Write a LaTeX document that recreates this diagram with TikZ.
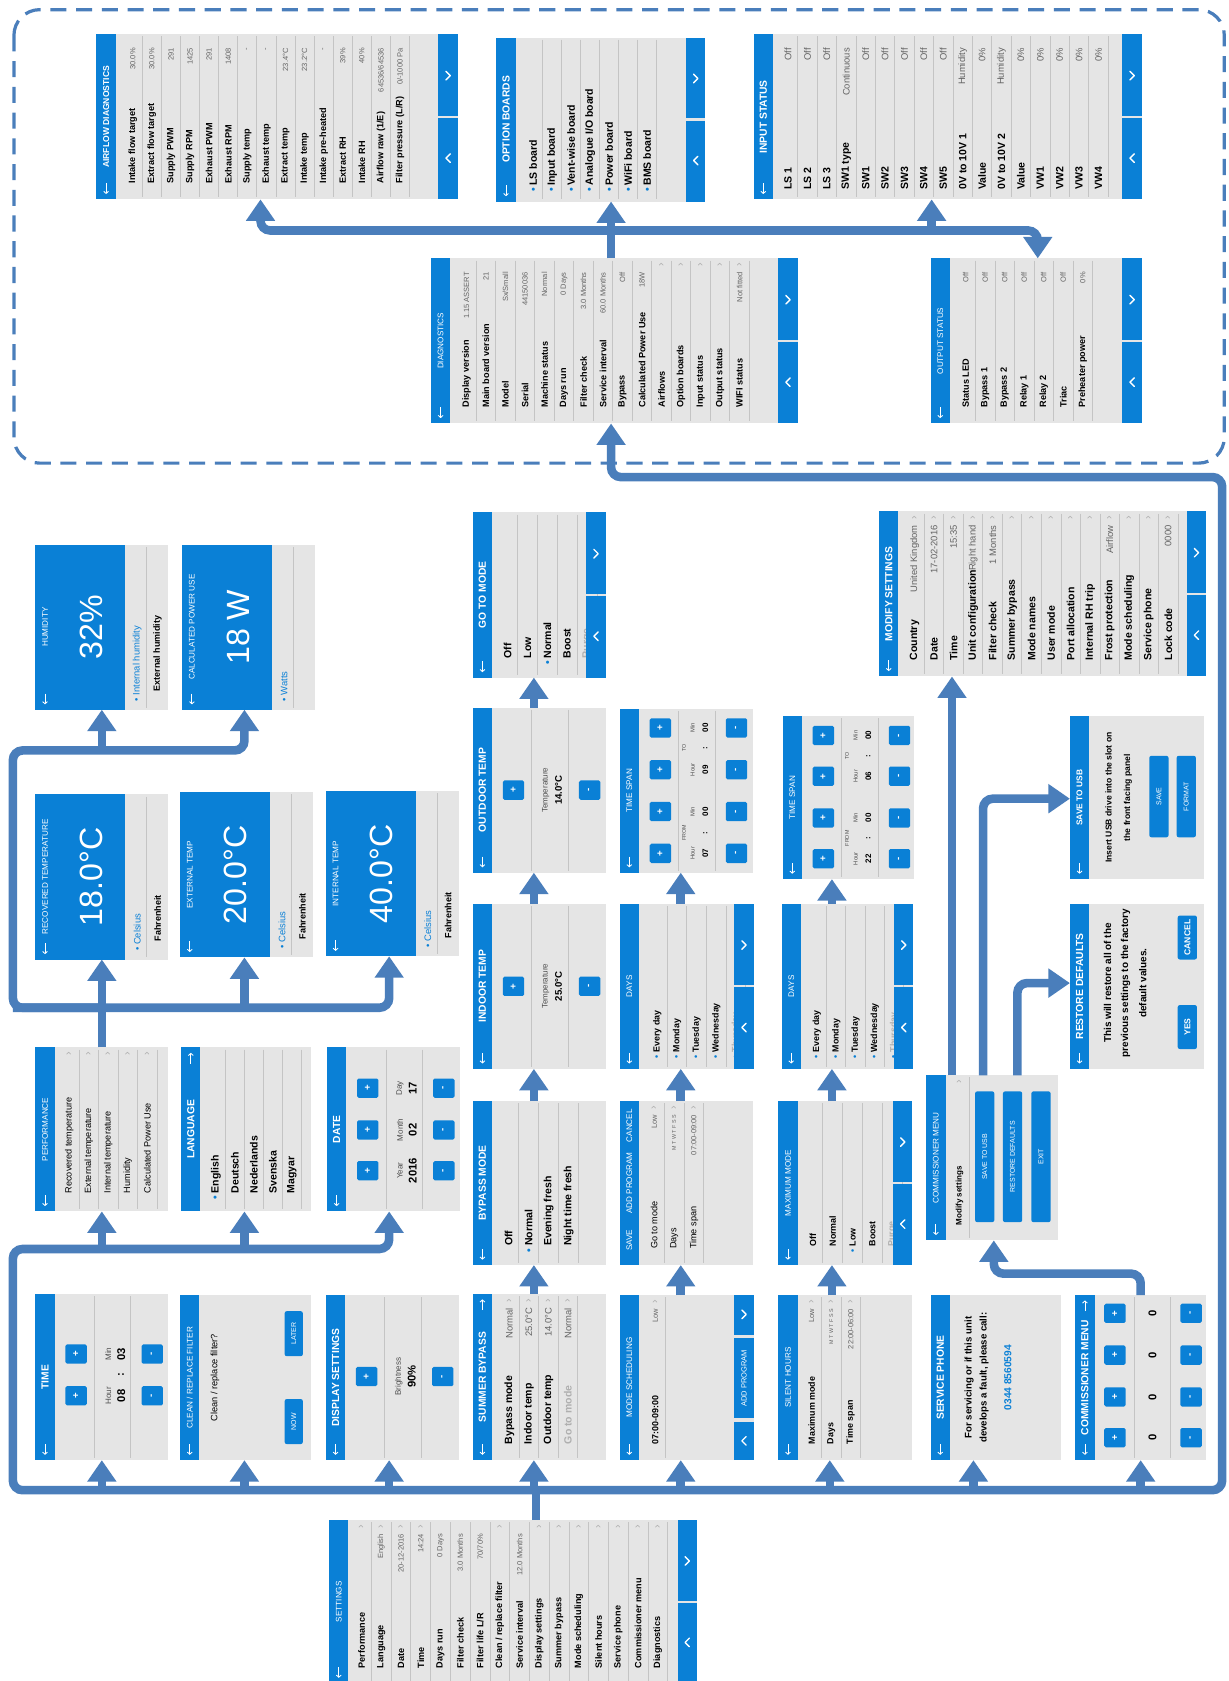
\documentclass[tikz,border=0pt]{standalone}
\usepackage{fontspec}
\setmainfont{Liberation Sans}
\usetikzlibrary{arrows.meta}
\definecolor{scrblue}{RGB}{10,128,214}
\definecolor{scrgrey}{RGB}{229,229,229}
\definecolor{sepgrey}{RGB}{196,196,196}
\definecolor{arrblue}{RGB}{74,126,187}
\definecolor{valgrey}{RGB}{100,100,100}
\definecolor{dimgrey}{RGB}{175,175,175}
\newcommand\fs[1]{\fontsize{#1}{#1}\selectfont}
\newcommand\bul{{\color{scrblue}\textbullet}\hspace{2.5pt}}
\newcommand\nb{\phantom{\textbullet}\hspace{2.5pt}}
\newcommand\greyed[1]{\textcolor{dimgrey}{#1}}
\newcommand\LabOff{15}
\newcommand\ValOff{13}
\tikzset{
 every node/.style={inner sep=0pt, outer sep=0pt},
 scrbg/.style={fill=scrgrey, draw=none},
 ttl/.style={rotate=90, text=white, font=\fs{7.6}},
 ttlA/.style={rotate=90, text=white, font=\bfseries\fs{8}},
 ttlb/.style={rotate=90, text=white, font=\bfseries\fs{9.6}},
 ttlc/.style={rotate=90, text=white, font=\bfseries\fs{7.8}},
 lA/.style={rotate=90, anchor=west, font=\bfseries\fs{8.5}},
 lB/.style={rotate=90, anchor=west, font=\bfseries\fs{9.8}},
 lC/.style={rotate=90, anchor=west, font=\fs{8.5}},
 lD/.style={rotate=90, anchor=west, font=\bfseries\fs{8.3}},
 vA/.style={rotate=90, anchor=east, text=valgrey, font=\fs{7}},
 vB/.style={rotate=90, anchor=east, text=valgrey, font=\fs{8.8}},
 chevn/.style={rotate=90, text=dimgrey, font=\fs{10}},
 rowsep/.style={draw=sepgrey, line width=0.8pt},
 backarr/.style={white, line width=0.8pt, -{Straight Barb[length=2pt,width=4.5pt]}},
 btnchev/.style={white, line width=1.3pt, line cap=round, line join=round},
 pmb/.style={rotate=90, fill=scrblue, rounded corners=1.5pt, minimum width=18pt, minimum height=20pt, text=white, font=\bfseries\fs{9}},
 pml/.style={rotate=90, text=black!70, font=\fs{7.5}},
 pmv/.style={rotate=90, font=\bfseries\fs{10.5}},
 tbtn/.style={rotate=90, fill=scrblue, rounded corners=2pt, text=white, font=\fs{6.5}},
 txtb/.style={rotate=90, font=\bfseries\fs{8}},
 bigval/.style={rotate=90, text=white, font=\fs{30}},
 conn/.style={draw=arrblue, line width=8pt, rounded corners=9pt},
 bigtip/.style={-{Triangle[width=26pt,length=20pt]}},
}
\newcommand\Scr[7]{%
  \node[scrbg, minimum width=#4pt, minimum height=#5pt, anchor=north west] (#1) at (#2,#3) {};
  \fill[scrblue] (#2,#3) rectangle ++(18,#5);
  \node[#6] (#1-ttl) at ({#2+9},{#3+#5/2}) {#7};
}
\newcommand\Back[2]{\draw[backarr] ({#1+9},{#2-15}) -- ({#1+9},{#2-5});}
\newcommand\Up[2]{\draw[backarr] ({#1+9},{#2+15}) -- ({#1+9},{#2+5});}
\newcommand\Btn[3]{%
  \fill[scrblue] (#1,#2) rectangle ({#1+18},{#2+#3/2-1});
  \fill[scrblue] (#1,{#2+#3/2+1}) rectangle ({#1+18},{#2+#3});
  \draw[btnchev] ({#1+7},{#2+#3/4-4}) -- ({#1+11},{#2+#3/4}) -- ({#1+7},{#2+#3/4+4});
  \draw[btnchev] ({#1+11},{#2+3*#3/4-4}) -- ({#1+7},{#2+3*#3/4}) -- ({#1+11},{#2+3*#3/4+4});
}
\newcommand\Rows[8]{%
  \foreach[count=\i] \lb/\vl/\cf in {#8}{%
    \node[#6] (#1-l\i) at ({#2+(\i-0.5)*#5},{#3+#4-\LabOff}) {\lb};
    \node[#7] (#1-v\i) at ({#2+(\i-0.5)*#5},{#3+\ValOff}) {\vl};
    \ifnum\cf=1 \node[chevn] (#1-c\i) at ({#2+(\i-0.5)*#5},{#3+6}) {›};\fi
    \draw[rowsep] ({#2+\i*#5},{#3+2}) -- ({#2+\i*#5},{#3+#4-2});
  }%
}
\newcommand\PM[5]{%
  \node[pmb] (#1-p) at ({#2+38},#3) {+};
  \node[pmb] (#1-m) at ({#2+109},#3) {-};
  \node[pml] (#1-l) at ({#2+68},#3) {#4};
  \node[pmv] (#1-v) at ({#2+80},#3) {#5};
}
\newcommand\PMsep[3]{%
  \draw[rowsep] ({#1+55},{#2+2}) -- ({#1+55},{#2+#3-2});
  \draw[rowsep] ({#1+89},{#2+2}) -- ({#1+89},{#2+#3-2});
}
\newcommand\VS[7]{%
  \node[scrbg, minimum width=124pt, minimum height=154pt, anchor=north west] (#1) at (#2,#3) {};
  \fill[scrblue] (#2,#3) rectangle ++(84,154);
  \node[ttl] (#1-ttl) at ({#2+9},{#3+77}) {#4};
  \Back{#2}{#3+154}
  \node[bigval] (#1-big) at ({#2+52},{#3+77}) {#5};
  \node[lC, text=scrblue, font=\fs{8.8}] (#1-i1) at ({#2+95},{#3+146}) {\bul #6};
  \draw[rowsep] ({#2+104},{#3+2}) -- ({#2+104},{#3+152});
  \node[lA, font=\bfseries\fs{8.4}] (#1-i2) at ({#2+114},{#3+137}) {#7};
}
\begin{document}
\begin{tikzpicture}[x=1pt,y=-1pt]
\useasboundingbox (0,0) rectangle (1146,1568);
\fill[white] (0,0) rectangle (1146,1568);
% dashed frame
\draw[arrblue, line width=3pt, dash pattern=on 15pt off 9pt, rounded corners=24pt] (13,9) rectangle (1142,432);

% ===== top area =====
\Scr{ad}{90}{32}{337}{154}{ttlA}{AIRFLOW DIAGNOSTICS}\Back{90}{186}
\Rows{ad}{115}{32}{154}{17.8}{lA}{vA}{{Intake flow target}/{30.0\%}/0,{Extract flow target}/{30.0\%}/0,{Supply PWM}/{291}/0,{Supply RPM}/{1425}/0,{Exhaust PWM}/{291}/0,{Exhaust RPM}/{1408}/0,{Supply temp}/{-}/0,{Exhaust temp}/{-}/0,{Extract temp}/{23.4°C}/0,{Intake temp}/{23.2°C}/0,{Intake pre-heated}/{-}/0,{Extract RH}/{39\%}/0,{Intake RH}/{40\%}/0,{Airflow raw (1/E)}/{64536/64536}/0,{Filter pressure (L/R)}/{0/-1000 Pa}/0}
\Btn{409}{32}{154}

\renewcommand\LabOff{9}
\Scr{ob}{463}{35}{195}{153}{ttlb}{OPTION BOARDS}\Back{463}{188}
\Rows{ob}{488.5}{35}{153}{17.7}{lB}{vA}{{\bul LS board}/{}/0,{\bul Input board}/{}/0,{\bul Vent-wise board}/{}/0,{\bul Analogue I/O board}/{}/0,{\bul Power board}/{}/0,{\bul WiFi board}/{}/0,{\bul BMS board}/{}/0}
\Btn{640}{35}{153}

\Scr{is}{703}{32}{362}{154}{ttlb}{INPUT STATUS}\Back{703}{186}
\Rows{is}{726}{32}{154}{18.1}{lB}{vB}{{LS 1}/{Off}/0,{LS 2}/{Off}/0,{LS 3}/{Off}/0,{SW1 type}/{Continuous}/0,{SW1}/{Off}/0,{SW2}/{Off}/0,{SW3}/{Off}/0,{SW4}/{Off}/0,{SW5}/{Off}/0,{0V to 10V 1}/{Humidity}/0,{Value}/{0\%}/0,{0V to 10V 2}/{Humidity}/0,{Value}/{0\%}/0,{VW1}/{0\%}/0,{VW2}/{0\%}/0,{VW3}/{0\%}/0,{VW4}/{0\%}/0}
\Btn{1047}{32}{154}
\renewcommand\LabOff{15}

\Scr{dg}{402}{241}{342}{154}{ttl}{DIAGNOSTICS}\Back{402}{395}
\Rows{dg}{426}{241}{154}{18.2}{lA}{vA}{{Display version}/{1.15 ASSERT}/0,{Main board version}/{21}/0,{Model}/{Sx/Small}/0,{Serial}/{44150036}/0,{Machine status}/{Normal}/0,{Days run}/{0 Days}/0,{Filter check}/{3.0 Months}/0,{Service interval}/{60.0 Months}/0,{Bypass}/{Off}/0,{Calculated Power Use}/{18W}/0,{Airflows}/{}/1,{Option boards}/{}/1,{Input status}/{}/1,{Output status}/{}/1,{WIFI status}/{Not fitted}/1}
\Btn{726}{241}{154}

\Scr{os}{868}{241}{197}{154}{ttl}{OUTPUT STATUS}\Back{868}{395}
\Rows{os}{891.7}{241}{154}{18.2}{lA}{vA}{{Status LED}/{Off}/0,{Bypass 1}/{Off}/0,{Bypass 2}/{Off}/0,{Relay 1}/{Off}/0,{Relay 2}/{Off}/0,{Triac}/{Off}/0,{Preheater power}/{0\%}/0}
\Btn{1047}{241}{154}

% ===== value screens =====
\VS{hm}{33}{508}{HUMIDITY}{32\%}{Internal humidity}{External humidity}
\VS{cp}{170}{508}{CALCULATED POWER USE}{18 W}{Watts}{}
\VS{rt}{33}{741}{RECOVERED TEMPERATURE}{18.0°C}{Celsius}{Fahrenheit}
\VS{et}{168}{739}{EXTERNAL TEMP}{20.0°C}{Celsius}{Fahrenheit}
\VS{it}{304}{738}{INTERNAL TEMP}{40.0°C}{Celsius}{Fahrenheit}

% ===== performance / language / date =====
\renewcommand\LabOff{17}
\Scr{pf}{33}{977}{124}{153}{ttl}{PERFORMANCE}\Back{33}{1130}
\Rows{pf}{55.5}{977}{153}{18.2}{lC}{vA}{{Recovered temperature}/{}/1,{External temperature}/{}/1,{Internal temperature}/{}/1,{Humidity}/{}/1,{Calculated Power Use}/{}/1}

\renewcommand\LabOff{11}
\Scr{lg}{169}{977}{121}{153}{ttlb}{LANGUAGE}\Up{169}{977}
\Rows{lg}{192.5}{977}{153}{17.7}{lB}{vA}{{\bul English}/{}/0,{\nb Deutsch}/{}/0,{\nb Nederlands}/{}/0,{\nb Svenska}/{}/0,{\nb Magyar}/{}/0}

\Scr{dt}{305}{977}{124}{153}{ttlb}{DATE}\Back{305}{1130}
\PMsep{305}{977}{153}
\PM{dt-y}{305}{1092}{Year}{2016}
\PM{dt-m}{305}{1054}{Month}{02}
\PM{dt-d}{305}{1015}{Day}{17}

% ===== time / clean / display =====
\Scr{tm}{33}{1207}{124}{155}{ttlb}{TIME}\Back{33}{1362}
\PMsep{33}{1207}{155}
\PM{tm-h}{33}{1302}{Hour}{08}
\PM{tm-m}{33}{1263}{Min}{03}
\node[pmv] (tm-c) at (113,1282) {:};

\Scr{cf}{168}{1208}{122}{154}{ttl}{CLEAN / REPLACE FILTER}\Back{168}{1362}
\node[lC, anchor=center, font=\fs{8.6}] (cf-q) at (200.5,1285) {Clean / replace filter?};
\node[tbtn, minimum width=42pt, minimum height=17pt] (cf-later) at (274,1244) {LATER};
\node[tbtn, minimum width=42pt, minimum height=17pt] (cf-now) at (274,1326) {NOW};

\Scr{ds}{304}{1208}{124}{154}{ttlb}{DISPLAY SETTINGS}\Back{304}{1362}
\PMsep{304}{1208}{154}
\PM{ds-b}{304}{1284}{Brightness}{90\%}

% ===== middle column 1 =====
\renewcommand\LabOff{12}
\Scr{gm}{441}{478}{124}{154}{ttlb}{GO TO MODE}\Back{441}{632}
\Rows{gm}{464.3}{478}{154}{18.5}{lB}{vA}{{\nb Off}/{}/0,{\nb Low}/{}/0,{\bul Normal}/{}/0,{\nb Boost}/{}/0,{\nb\greyed{Purge}}/{}/0}
\Btn{547}{478}{154}

\Scr{ot}{441}{660}{124}{154}{ttlb}{OUTDOOR TEMP}\Back{441}{814}
\PMsep{441}{660}{154}
\PM{ot-t}{441}{737}{Temperature}{\fs{9}14.0°C}

\Scr{itp}{441}{843}{124}{154}{ttlb}{INDOOR TEMP}\Back{441}{997}
\PMsep{441}{843}{154}
\PM{itp-t}{441}{920}{Temperature}{\fs{9}25.0°C}

\Scr{bm}{441}{1027}{124}{153}{ttlb}{BYPASS MODE}\Back{441}{1180}
\Rows{bm}{465}{1027}{153}{18.7}{lB}{vA}{{\nb Off}/{}/0,{\bul Normal}/{}/0,{\nb Evening fresh}/{}/0,{\nb Night time fresh}/{}/0}

\renewcommand\LabOff{15}
\Scr{sb}{441}{1207}{124}{155}{ttlb}{SUMMER BYPASS}\Back{441}{1362}\Up{441}{1207}
\Rows{sb}{466}{1207}{155}{18.2}{lB}{vB}{{Bypass mode}/{Normal}/1,{Indoor temp}/{25.0°C}/1,{Outdoor temp}/{14.0°C}/1,{\greyed{Go to mode}}/{Normal}/1}

% ===== middle column 2 =====
\Scr{ts1}{578}{661}{124}{153}{ttl}{TIME SPAN}\Back{578}{814}
\PMsep{578}{661}{153}
\PM{ts1-a}{578}{796}{\fs{5.5}Hour}{\fs{7.5}07}
\PM{ts1-b}{578}{757}{\fs{5.5}Min}{\fs{7.5}00}
\PM{ts1-c}{578}{718}{\fs{5.5}Hour}{\fs{7.5}09}
\PM{ts1-d}{578}{679}{\fs{5.5}Min}{\fs{7.5}00}
\node[pmv, font=\bfseries\fs{7.5}] (ts1-k1) at (658,777) {:};
\node[pmv, font=\bfseries\fs{7.5}] (ts1-k2) at (658,698) {:};
\node[pml, font=\fs{5}] (ts1-from) at (638,777) {FROM};
\node[pml, font=\fs{5}] (ts1-to) at (638,698) {TO};

\renewcommand\LabOff{10}
\Scr{dy1}{578}{843}{125}{154}{ttl}{DAYS}\Back{578}{997}
\Rows{dy1}{604}{843}{154}{18.3}{lD}{vA}{{\bul Every day}/{}/0,{\bul Monday}/{}/0,{\bul Tuesday}/{}/0,{\bul Wednesday}/{}/0,{\greyed{\bul Thursday}}/{}/0}
\Btn{685}{843}{154}

\renewcommand\LabOff{15}
\Scr{ap}{578}{1027}{124}{153}{ttl}{ADD PROGRAM}
\node[ttl] (ap-save) at (587,1157) {SAVE};
\node[ttl] (ap-cancel) at (587,1050) {CANCEL};
\Rows{ap}{601}{1027}{153}{18.5}{lC}{vA}{{Go to mode}/{Low}/1,{Days}/{\fs{5}M T W T F S S}/1,{Time span}/{07:00-09:00}/1}

\Scr{msc}{578}{1208}{125}{154}{ttl}{MODE SCHEDULING}\Back{578}{1362}
\Rows{msc}{602}{1208}{154}{18.5}{lD}{vA}{{07:00-09:00}/{Low}/1}
\fill[scrblue] (685,1208) rectangle (703,1245);
\fill[scrblue] (685,1248) rectangle (703,1323);
\fill[scrblue] (685,1326) rectangle (703,1362);
\draw[btnchev] (692,1222) -- (696,1226) -- (692,1230);
\draw[btnchev] (696,1340) -- (692,1344) -- (696,1348);
\node[ttl, font=\fs{7}] (msc-add) at (694,1285.5) {ADD PROGRAM};

% ===== middle column 3 =====
\Scr{ts2}{730}{668}{123}{152}{ttl}{TIME SPAN}\Back{730}{820}
\PMsep{730}{668}{152}
\PM{ts2-a}{730}{801}{\fs{5.5}Hour}{\fs{7.5}22}
\PM{ts2-b}{730}{763}{\fs{5.5}Min}{\fs{7.5}00}
\PM{ts2-c}{730}{724}{\fs{5.5}Hour}{\fs{7.5}06}
\PM{ts2-d}{730}{686}{\fs{5.5}Min}{\fs{7.5}00}
\node[pmv, font=\bfseries\fs{7.5}] (ts2-k1) at (810,782) {:};
\node[pmv, font=\bfseries\fs{7.5}] (ts2-k2) at (810,705) {:};
\node[pml, font=\fs{5}] (ts2-from) at (790,782) {FROM};
\node[pml, font=\fs{5}] (ts2-to) at (790,705) {TO};

\renewcommand\LabOff{10}
\Scr{dy2}{729}{843}{123}{154}{ttl}{DAYS}\Back{729}{997}
\Rows{dy2}{753}{843}{154}{18}{lD}{vA}{{\bul Every day}/{}/0,{\bul Monday}/{}/0,{\bul Tuesday}/{}/0,{\bul Wednesday}/{}/0,{\greyed{\bul Thursday}}/{}/0}
\Btn{834}{843}{154}

\renewcommand\LabOff{12}
\Scr{mx}{726}{1027}{125}{153}{ttl}{MAXIMUM MODE}\Back{726}{1180}
\Rows{mx}{749}{1027}{153}{18.5}{lD}{vA}{{\nb Off}/{}/0,{\nb Normal}/{}/0,{\bul Low}/{}/0,{\nb Boost}/{}/0,{\nb\greyed{Purge}}/{}/0}
\Btn{833}{1027}{153}

\renewcommand\LabOff{15}
\Scr{sh}{726}{1208}{125}{154}{ttl}{SILENT HOURS}\Back{726}{1362}
\Rows{sh}{748}{1208}{154}{18.2}{lD}{vA}{{Maximum mode}/{Low}/1,{Days}/{\fs{5}M T W T F S S}/1,{Time span}/{22:00-06:00}/1}

% ===== right column =====
\Scr{ms}{820}{477}{305}{154}{ttlb}{MODIFY SETTINGS}\Back{820}{631}
\Rows{ms}{844}{477}{154}{18.2}{lB}{vB}{{Country}/{United Kingdom}/1,{Date}/{17-02-2016}/1,{Time}/{15:35}/1,{Unit configuration}/{Right hand}/1,{Filter check}/{1 Months}/1,{Summer bypass}/{}/1,{Mode names}/{}/1,{User mode}/{}/1,{Port allocation}/{}/1,{Internal RH trip}/{}/1,{Frost protection}/{Airflow}/1,{Mode scheduling}/{}/1,{Service phone}/{}/1,{Lock code}/{0000}/1}
\Btn{1107}{477}{154}

\Scr{su}{998}{668}{125}{152}{ttlc}{SAVE TO USB}\Back{998}{820}
\node[txtb] (su-t1) at (1034,744) {Insert USB drive into the slot on};
\node[txtb] (su-t2) at (1052,744) {the front facing panel};
\node[tbtn, minimum width=76pt, minimum height=18pt] (su-save) at (1081,743) {SAVE};
\node[tbtn, minimum width=76pt, minimum height=18pt] (su-format) at (1106.5,743) {FORMAT};

\Scr{rd}{998}{843}{125}{154}{ttlb}{RESTORE DEFAULTS}\Back{998}{997}
\node[txtb, font=\bfseries\fs{9.3}] (rd-t1) at (1033,917) {This will restore all of the};
\node[txtb, font=\bfseries\fs{9.3}] (rd-t2) at (1050,917) {previous settings to the factory};
\node[txtb, font=\bfseries\fs{9.3}] (rd-t3) at (1066,917) {default values.};
\node[tbtn, minimum width=41pt, minimum height=18pt, font=\bfseries\fs{8}] (rd-yes) at (1107.5,958) {YES};
\node[tbtn, minimum width=41pt, minimum height=18pt, font=\bfseries\fs{8}] (rd-cancel) at (1107.5,874.5) {CANCEL};

\Scr{cm}{864}{1003}{123}{154}{ttl}{COMMISSIONER MENU}\Back{864}{1157}
\node[lD, font=\bfseries\fs{7.5}] (cm-l1) at (895,1143) {Modify settings};
\node[chevn] (cm-c1) at (895,1009) {›};
\draw[rowsep] (904,1005) -- (904,1155);
\node[tbtn, minimum width=122pt, minimum height=18pt] (cm-b1) at (918.5,1079) {SAVE TO USB};
\node[tbtn, minimum width=122pt, minimum height=18pt] (cm-b2) at (944.5,1079) {RESTORE DEFAULTS};
\node[tbtn, minimum width=122pt, minimum height=18pt] (cm-b3) at (971,1079) {EXIT};

\Scr{sp}{868}{1208}{122}{154}{ttlb}{SERVICE PHONE}\Back{868}{1362}
\node[txtb, font=\bfseries\fs{9}] (sp-t1) at (904,1285) {For servicing or if this unit};
\node[txtb, font=\bfseries\fs{9}] (sp-t2) at (918,1285) {develops a fault, please call:};
\node[txtb, text=scrblue, font=\bfseries\fs{9.5}] (sp-t3) at (940,1285) {0344 8560594};

\Scr{cc}{1003}{1208}{122}{154}{ttlb}{COMMISSIONER MENU}\Back{1003}{1362}\Up{1003}{1208}
\PMsep{1003}{1208}{154}
\foreach \yy [count=\k] in {1341,1303,1264,1225}{%
  \node[pmb] (cc-p\k) at (1040,\yy) {+};
  \node[pmb] (cc-m\k) at (1111,\yy) {-};
  \node[pmv] (cc-v\k) at (1075,\yy) {0};
}

% ===== settings =====
\renewcommand\LabOff{14}
\Scr{st}{307}{1418}{343}{152}{ttl}{SETTINGS}\Back{307}{1570}
\Rows{st}{328}{1418}{152}{18.43}{lA}{vA}{{Performance}/{}/1,{Language}/{English}/1,{Date}/{20-12-2016}/1,{Time}/{14:24}/1,{Days run}/{0 Days}/0,{Filter check}/{3.0 Months}/0,{Filter life L/R}/{70/70\%}/0,{Clean / replace filter}/{}/1,{Service interval}/{12.0 Months}/0,{Display settings}/{}/1,{Summer bypass}/{}/1,{Mode scheduling}/{}/1,{Silent hours}/{}/1,{Service phone}/{}/1,{Commissioner menu}/{}/1,{Diagnostics}/{}/1}
\Btn{632}{1418}{152}

% ===== connectors =====
% top area
\coordinate (ja) at (570,215);
\coordinate (jl) at (243,215);
\coordinate (jr) at (968,215);
\coordinate (ji) at (869,215);
\draw[conn,bigtip] (ja |- dg.north) -- (ja |- ob.south);
\draw[conn,bigtip] (ja) -- (jl) -- (jl |- ad.south);
\draw[conn,bigtip] (ja) -- (jr) -- (jr |- os.north);
\draw[conn,bigtip] (ji) -- (ji |- is.south);

% bottom bus
\coordinate (bS) at (500,1390);
\coordinate (bL) at (12,1390);
\coordinate (bLT) at (12,1165);
\coordinate (bD) at (363,1165);
\coordinate (bR) at (1140,1390);
\coordinate (rT) at (1140,445);
\coordinate (dB) at (570,445);
\draw[conn] (st.north -| bS) -- (bS);
\draw[conn,bigtip] (bS) -- (bL) -- (bLT) -- (bD) -- (bD |- dt.south);
\draw[conn,bigtip] (bS) -- (bR) -- (rT) -- (dB) -- (dB |- dg.south);
\coordinate (b2a) at (95,1165);
\coordinate (b2b) at (228,1165);
\draw[conn,bigtip] (b2a) -- (b2a |- pf.south);
\draw[conn,bigtip] (b2b) -- (b2b |- lg.south);
\coordinate (a1) at (95,1390);
\coordinate (a2) at (228,1390);
\coordinate (a3) at (363,1390);
\coordinate (a4) at (498,1390);
\coordinate (a5) at (635,1390);
\coordinate (a6) at (774,1390);
\coordinate (a7) at (908,1390);
\coordinate (a8) at (1064,1390);
\draw[conn,bigtip] (a1) -- (a1 |- tm.south);
\draw[conn,bigtip] (a2) -- (a2 |- cf.south);
\draw[conn,bigtip] (a3) -- (a3 |- ds.south);
\draw[conn,bigtip] (a4) -- (a4 |- sb.south);
\draw[conn,bigtip] (a5) -- (a5 |- msc.south);
\draw[conn,bigtip] (a6) -- (a6 |- sh.south);
\draw[conn,bigtip] (a7) -- (a7 |- sp.south);
\draw[conn,bigtip] (a8) -- (a8 |- cc.south);

% upper left bus
\coordinate (u1) at (95,940);
\coordinate (u0) at (12,940);
\coordinate (u0t) at (12,700);
\coordinate (u2) at (228,700);
\coordinate (u3) at (363,940);
\coordinate (u4) at (228,940);
\coordinate (u5) at (95,700);
\draw[conn,bigtip] (u1) -- (u0) -- (u0t) -- (u2) -- (u2 |- cp.south);
\draw[conn,bigtip] (u0) -- (u3) -- (u3 |- it.south);
\draw[conn,bigtip] (pf.north -| u1) -- (u1 |- rt.south);
\draw[conn,bigtip] (u4) -- (u4 |- et.south);
\draw[conn,bigtip] (u5) -- (u5 |- hm.south);

% middle short arrows
\coordinate (cx1) at (498,0);
\coordinate (cx2) at (635,0);
\coordinate (cx3) at (776,0);
\draw[conn,bigtip] (sb.north -| cx1) -- (bm.south -| cx1);
\draw[conn,bigtip] (bm.north -| cx1) -- (itp.south -| cx1);
\draw[conn,bigtip] (itp.north -| cx1) -- (ot.south -| cx1);
\draw[conn,bigtip] (ot.north -| cx1) -- (gm.south -| cx1);
\draw[conn,bigtip] (msc.north -| cx2) -- (ap.south -| cx2);
\draw[conn,bigtip] (ap.north -| cx2) -- (dy1.south -| cx2);
\draw[conn,bigtip] (dy1.north -| cx2) -- (ts1.south -| cx2);
\draw[conn,bigtip] (sh.north -| cx3) -- (mx.south -| cx3);
\draw[conn,bigtip] (mx.north -| cx3) -- (dy2.south -| cx3);
\draw[conn,bigtip] (dy2.north -| cx3) -- (ts2.south -| cx3);

% commissioner connectors
\coordinate (c1) at (1064,1188);
\coordinate (c2) at (927,1188);
\draw[conn,bigtip] (cc.north -| c1) -- (c1) -- (c2) -- (c2 |- cm.south);
\coordinate (k0) at (888,0);
\draw[conn,bigtip] (cm.north -| k0) -- (k0 |- ms.south);
\coordinate (k1) at (917,745);
\draw[conn,bigtip] (cm.north -| k1) -- (k1) -- (su.west |- k1);
\coordinate (k2) at (949,917);
\draw[conn,bigtip] (cm.north -| k2) -- (k2) -- (rd.west |- k2);
\end{tikzpicture}
\end{document}
